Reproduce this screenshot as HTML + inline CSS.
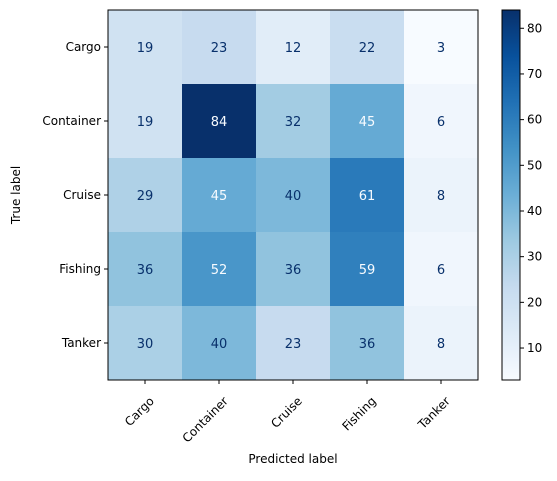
<!DOCTYPE html>
<html><head><meta charset="utf-8"><style>
body{margin:0;background:#fff;font-family:"Liberation Sans","DejaVu Sans",sans-serif}
svg text{font-family:"DejaVu Sans","Liberation Sans",sans-serif}
</style></head><body>
<svg id="c" width="557" height="476" xmlns="http://www.w3.org/2000/svg"></svg>
<script>
const labels=["Cargo","Container","Cruise","Fishing","Tanker"];
const row0=[19,23,12,22,3];
const row1=[19,84,32,45,6];
const row2=[29,45,40,61,8];
const row3=[36,52,36,59,6];
const row4=[30,40,23,36,8];
const cbTicks=[10,20,30,40,50,60,70,80];
const matrix=[row0,row1,row2,row3,row4];
const L=108,T=10,W=370,H=370,n=5,cw=W/n,ch=H/n;
const all=matrix.flat();const vmin=Math.min(...all),vmax=Math.max(...all);
const stops=["#f7fbff","#deebf7","#c6dbef","#9ecae1","#6baed6","#4292c6","#2171b5","#08519c","#08306b"].map(h=>[1,3,5].map(i=>parseInt(h.substr(i,2),16)));
function cmap(t){t=Math.max(0,Math.min(1,t));const p=t*8,i=Math.min(7,Math.floor(p)),f=p-i;const a=stops[i],b=stops[i+1];return`rgb(${a.map((v,k)=>Math.round(v+(b[k]-v)*f)).join(",")})`;}
const xs=i=>L+i*cw, ys=i=>T+i*ch;
const svg=document.getElementById('c');const NS="http://www.w3.org/2000/svg";
function mk(tag,attrs,parent){const e=document.createElementNS(NS,tag);for(const k in attrs)e.setAttribute(k,attrs[k]);(parent||svg).appendChild(e);return e;}
const thresh=(vmax+vmin)/2;
matrix.forEach((row,r)=>row.forEach((v,c)=>{
 const t=(v-vmin)/(vmax-vmin);
 const rc=mk('rect',{x:xs(c),y:ys(r),width:cw+0.5,height:ch+0.5,fill:cmap(t)});
 
 
 const tx=mk('text',{x:xs(c)+cw/2,y:ys(r)+ch/2+5,'text-anchor':'middle','font-size':13,fill:v>thresh?'#f7fbff':'#08306b'});
 tx.textContent=v;
 
 
}));
const fr=mk('rect',{x:L,y:T,width:W,height:H,fill:'none',stroke:'#000','stroke-width':1});


labels.forEach((lab,i)=>{
 const cx=xs(i)+cw/2, cy=ys(i)+ch/2;
 mk('line',{x1:cx,y1:T+H,x2:cx,y2:T+H+4,stroke:'#000'});
 const xt=mk('text',{x:cx+3,y:T+H+15,'text-anchor':'end','font-size':12,transform:`rotate(-45 ${cx+3} ${T+H+15})`,dy:'0.8em'});
 xt.textContent=lab;
 
 
 mk('line',{x1:L-4,y1:cy,x2:L,y2:cy,stroke:'#000'});
 const yt=mk('text',{x:L-7,y:cy+4,'text-anchor':'end','font-size':12});
 yt.textContent=lab;
 
 
});
const xl=mk('text',{x:L+W/2,y:463,'text-anchor':'middle','font-size':12});xl.textContent='Predicted label';


const yl=mk('text',{x:20,y:T+H/2,'text-anchor':'middle','font-size':12,transform:`rotate(-90 20 ${T+H/2})`});yl.textContent='True label';


const CL=502,CW=18;
const defs=mk('defs',{});const g=mk('linearGradient',{id:'cb',x1:0,y1:1,x2:0,y2:0},defs);
for(let i=0;i<=8;i++)mk('stop',{offset:i/8,'stop-color':cmap(i/8)},g);
const cb=mk('rect',{x:CL,y:T,width:CW,height:H,fill:'url(#cb)',stroke:'#000','stroke-width':1});


const cy=v=>T+H-(v-vmin)/(vmax-vmin)*H;
cbTicks.forEach(v=>{
 mk('line',{x1:CL+CW,y1:cy(v),x2:CL+CW+4,y2:cy(v),stroke:'#000'});
 const t=mk('text',{x:CL+CW+7,y:cy(v)+4,'font-size':12});t.textContent=v;
 
 
});
</script>
</body></html>
